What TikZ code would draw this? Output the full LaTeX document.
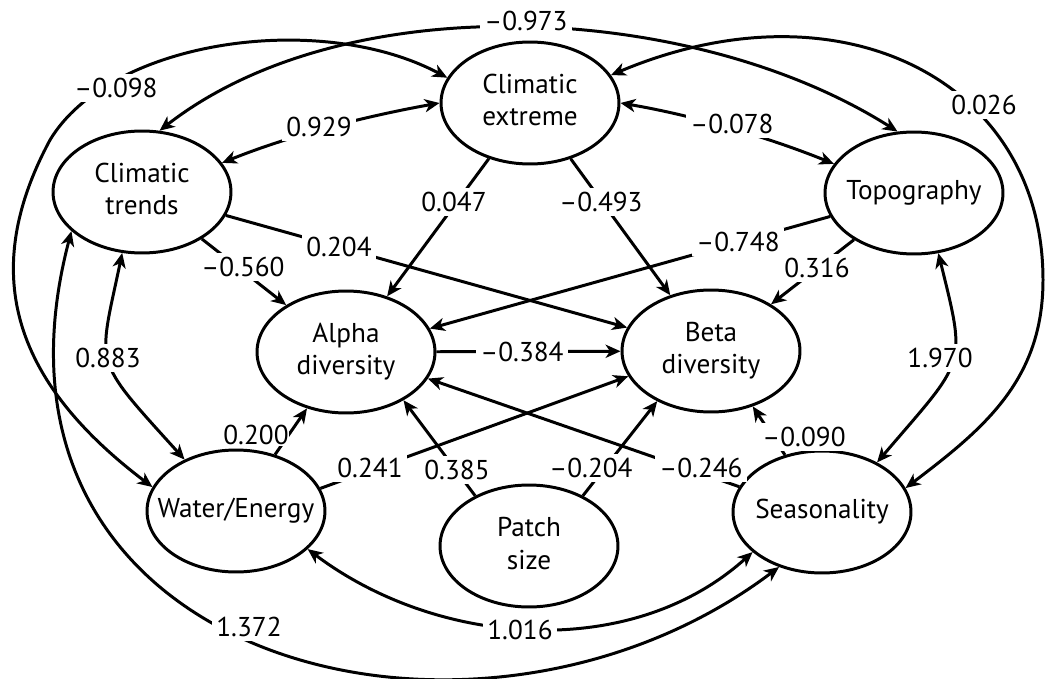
\documentclass[tikz,border=0pt]{standalone}
\usepackage{fontspec}
\setmainfont{PT Sans}
\usetikzlibrary{shapes.geometric,arrows.meta}
\newcommand\etext[1]{\makebox[0pt]{\begin{tabular}{@{}c@{}}#1\end{tabular}}}
\begin{document}
\begin{tikzpicture}[x=0.02cm,y=-0.02cm,
  every node/.style={font=\fontsize{15.5}{18.7}\selectfont},
  ell/.style={draw, line width=1.7pt, ellipse, minimum width=3.56cm, minimum height=2.44cm, inner sep=0pt},
  conn/.style={line width=1.7pt, -{Stealth[length=8.5pt,width=7.5pt,inset=2.5pt]}},
  dconn/.style={line width=1.7pt, {Stealth[length=8.5pt,width=7.5pt,inset=2.5pt]}-{Stealth[length=8.5pt,width=7.5pt,inset=2.5pt]}},
  lbl/.style={fill=white, inner sep=2.5pt}]

\useasboundingbox (0,0) rectangle (1045,679);

% latent variables
\node[ell] (ce)     at (530,103) {\etext{Climatic\\extreme}};
\node[ell] (ct)     at (142,192) {\etext{Climatic\\trends}};
\node[ell] (topo)   at (914,193) {\etext{Topography}};
\node[ell] (alpha)  at (346,352) {\etext{Alpha\\diversity}};
\node[ell] (beta)   at (711,351) {\etext{Beta\\diversity}};
\node[ell] (we)     at (236,511) {\etext{Water/Energy}};
\node[ell] (patch)  at (529,546) {\etext{Patch\\size}};
\node[ell] (season) at (822,512) {\etext{Seasonality}};

% connectors
\draw[dconn] (ct.20) .. controls (291,135) and (367,116) .. (ce.180);
\draw[dconn] (ce.0) .. controls (691,115) and (765,136) .. (topo.160);
\draw[conn] (ce) -- (alpha);
\draw[conn] (ce) -- (beta);
\draw[conn] (ct) -- (alpha);
\draw[conn] (ct) -- (beta);
\draw[conn] (topo) -- (alpha);
\draw[conn] (topo) -- (beta);
\draw[conn] (alpha) -- (beta);
\draw[conn] (we) -- (alpha);
\draw[conn] (we.15) -- (beta.-163);
\draw[conn] (patch.137) -- (alpha.-40);
\draw[conn] (patch.43) -- (beta.-137);
\draw[conn] (season.163) -- (alpha.-18);
\draw[conn] (season.123) -- (beta.-53);
\draw[dconn] (ct.-108) .. controls (98,369) and (91,356) .. (we.135);
\draw[dconn] (topo.-68) .. controls (967,369) and (966,358) .. (season.42);
\draw[dconn] (we.-28) .. controls (439,648) and (632,661) .. (season.-150);
\draw[dconn] (ct.-151) .. controls (-43,665) and (477,795) .. (season.-128);
\draw[dconn] (ct.74) .. controls (348,-16) and (695,3) .. (topo.105);
\draw[dconn] (ce.163) .. controls (320,10) and (110,40) .. (50,140)
   .. controls (-20,270) and (9.7,379) .. (we.164);
\draw[dconn] (ce.19) .. controls (840,-21.5) and (1043,80) .. (1043,280)
   .. controls (1043,380) and (984,428.5) .. (season.16);

% path coefficients
\node[lbl] (l1)  at (526,21)  {–0.973};
\node[lbl] (l2)  at (116,88)  {–0.098};
\node[lbl] (l3)  at (984,105) {0.026};
\node[lbl] (l4)  at (319,127) {0.929};
\node[lbl] (l5)  at (732,124) {–0.078};
\node[lbl] (l6)  at (454,202) {0.047};
\node[lbl] (l7)  at (601,202) {–0.493};
\node[lbl] (l8)  at (243,267) {–0.560};
\node[lbl] (l9)  at (339,247) {0.204};
\node[lbl] (l10) at (738,242) {–0.748};
\node[lbl] (l11) at (817,268) {0.316};
\node[lbl] (l12) at (522,352) {–0.384};
\node[lbl] (l13) at (108,358) {0.883};
\node[lbl] (l14) at (940,358) {1.970};
\node[lbl, inner sep=0.5pt] (l15) at (256,435) {0.200};
\node[lbl] (l16) at (370,468) {0.241};
\node[lbl] (l17) at (457,470) {0.385};
\node[lbl] (l18) at (591,468) {–0.204};
\node[lbl] (l19) at (701,468) {–0.246};
\node[lbl] (l20) at (804,437) {–0.090};
\node[lbl] (l21) at (520,630) {1.016};
\node[lbl] (l22) at (249,627) {1.372};
\end{tikzpicture}
\end{document}
